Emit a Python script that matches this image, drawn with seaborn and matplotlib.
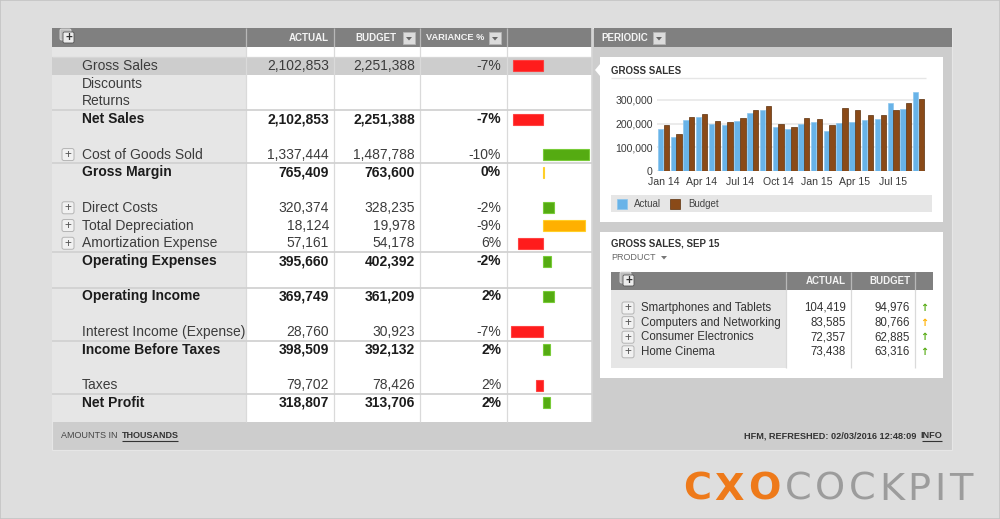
import numpy as np
import pandas as pd
import matplotlib
matplotlib.use("Agg")
import matplotlib.pyplot as plt
import seaborn as sns
from matplotlib.patches import Rectangle, FancyBboxPatch, Polygon
from matplotlib.ticker import FuncFormatter

# ------------------------------------------------------------------ data
row_labels = ["Gross Sales", "Discounts", "Returns", "Net Sales", "",
              "Cost of Goods Sold", "Gross Margin", "",
              "Direct Costs", "Total Depreciation", "Amortization Expense",
              "Operating Expenses", "", "Operating Income", "",
              "Interest Income (Expense)", "Income Before Taxes", "",
              "Taxes", "Net Profit"]
row_bold = [False, False, False, True, False, False, True, False, False, False,
            False, True, False, True, False, False, True, False, False, True]
row_expand = [False, False, False, False, False, True, False, False, True, True,
              True, False, False, False, False, False, False, False, False, False]
actual_vals = [2102853, None, None, 2102853, None, 1337444, 765409, None,
               320374, 18124, 57161, 395660, None, 369749, None,
               28760, 398509, None, 79702, 318807]
budget_vals = [2251388, None, None, 2251388, None, 1487788, 763600, None,
               328235, 19978, 54178, 402392, None, 361209, None,
               30923, 392132, None, 78426, 313706]
variance_txt = ["-7%", "", "", "-7%", "", "-10%", "0%", "", "-2%", "-9%", "6%",
                "-2%", "", "2%", "", "-7%", "2%", "", "2%", "2%"]
# favourability-signed variance bar (percent)
variance_bar = [-6.6, None, None, -6.6, None, 10.1, 0.25, None, 2.4, 9.3, -5.5,
                1.7, None, 2.4, None, -7.0, 1.6, None, -1.6, 1.6]
variance_status = ["bad", None, None, "bad", None, "good", "warn", None, "good",
                   "warn", "bad", "good", None, "good", None, "bad", "good",
                   None, "bad", "good"]

months = ["Jan 14", "Feb 14", "Mar 14", "Apr 14", "May 14", "Jun 14", "Jul 14",
          "Aug 14", "Sep 14", "Oct 14", "Nov 14", "Dec 14", "Jan 15", "Feb 15",
          "Mar 15", "Apr 15", "May 15", "Jun 15", "Jul 15", "Aug 15", "Sep 15"]
sales_actual = [176000, 142000, 215000, 227000, 199000, 192000, 211000, 246000,
                259000, 187000, 176000, 199000, 207000, 169000, 203000, 207000,
                214000, 220000, 286000, 261000, 333799]
sales_budget = [193000, 155000, 227000, 239000, 211000, 208000, 223000, 256000,
                273000, 200000, 187000, 223000, 220000, 196000, 265000, 259000,
                235000, 235000, 259000, 285000, 301943]
yticks = [0, 100000, 200000, 300000]

product_names = ["Smartphones and Tablets", "Computers and Networking",
                 "Consumer Electronics", "Home Cinema"]
product_actual = [104419, 83585, 72357, 73438]
product_budget = [94976, 80766, 62885, 63316]
product_trend = ["good", "warn", "good", "good"]

status_colors = {"bad": "#ff1c1c", "good": "#55ab12", "warn": "#ffb000"}

# ------------------------------------------------------------------ setup
plt.rcParams["font.family"] = ["Liberation Sans", "DejaVu Sans"]
W, H = 1000, 519
fig = plt.figure(figsize=(W / 100, H / 100), dpi=100)
bg = fig.add_axes([0, 0, 1, 1])
bg.set_xlim(0, W)
bg.set_ylim(H, 0)
bg.axis("off")


def px_axes(x0, y0, x1, y1):
    return fig.add_axes([x0 / W, 1 - y1 / H, (x1 - x0) / W, (y1 - y0) / H])


def rect(x0, y0, x1, y1, fc, ec="none", lw=0, z=1):
    bg.add_patch(Rectangle((x0, y0), x1 - x0, y1 - y0, facecolor=fc,
                           edgecolor=ec, linewidth=lw, zorder=z))


def hline(x0, x1, y, color, lw=1, z=2):
    bg.plot([x0, x1], [y, y], color=color, lw=lw, zorder=z, solid_capstyle="butt")


def vline(x, y0, y1, color, lw=1, z=2):
    bg.plot([x, x], [y0, y1], color=color, lw=lw, zorder=z, solid_capstyle="butt")


def txt(x, y, s, size, color="#333333", ha="left", weight="normal", va="center", z=5, **kw):
    return bg.text(x, y, s, fontsize=size, color=color, ha=ha, va=va,
                   fontweight=weight, zorder=z, **kw)


def tracked(x0, x1, y, s, size, color, weight):
    """Lay out the letters of s individually so they span x0..x1."""
    r = fig.canvas.get_renderer()
    items = []
    for ch in s:
        t = txt(0, y, ch, size, color, weight=weight, va="baseline",
                family=["DejaVu Sans"])
        items.append((t, t.get_window_extent(renderer=r).width))
    total = sum(w for _, w in items)
    track = (x1 - x0 - total) / max(1, len(s) - 1)
    x = x0
    for t, w in items:
        t.set_x(x)
        x += w + track


def dropdown(x, y, s=12):
    rect(x, y, x + s, y + s, "#dcdcdc", ec="#b5b5b5", lw=0.6, z=4)
    cx, cy = x + s / 2, y + s / 2 + 0.5
    bg.add_patch(Polygon([[cx - 3, cy - 1.5], [cx + 3, cy - 1.5], [cx, cy + 2]],
                         closed=True, facecolor="#666666", edgecolor="none", zorder=5))


def plusbtn(x, y, s=12):
    bg.add_patch(FancyBboxPatch((x, y), s, s, boxstyle="round,pad=0,rounding_size=2",
                                facecolor="#f1f1f1", edgecolor="#b4b4b4", lw=0.7, zorder=4))
    txt(x + s / 2, y + s / 2 + 0.3, "+", 8.5, "#555555", ha="center", z=6)


def header_plus(x, y):
    bg.add_patch(FancyBboxPatch((x - 2, y - 2), 11, 11, boxstyle="round,pad=0,rounding_size=1.5",
                                facecolor="#bdbdbd", edgecolor="#e0e0e0", lw=0.6, zorder=4))
    bg.add_patch(FancyBboxPatch((x + 1, y + 1), 11, 11, boxstyle="round,pad=0,rounding_size=1.5",
                                facecolor="#ececec", edgecolor="#555555", lw=0.6, zorder=5))
    txt(x + 6.5, y + 6.8, "+", 8.5, "#333333", ha="center", weight="bold", z=6)


# ------------------------------------------------------------------ backgrounds
rect(0, 0, W, H, "#dedede", ec="#c4c4c4", lw=1.2, z=0)
rect(52, 28, 952, 450, "#cdcdcd", ec="#e6e6e6", lw=0.8, z=0.5)

# ------------------------------------------------------------------ P&L table
TX0, TX1 = 52, 592
col_sep = [246, 334, 420, 507]
row_h = 17.74
row0 = 57.0
rect(TX0, 28, TX1, 47, "#808080", z=1)
rect(TX0, 47, 246, 422, "#e6e6e6", z=1)
rect(246, 47, TX1, 422, "#ffffff", z=1)
for x in col_sep:
    vline(x, 28, 47, "#b8b8b8", lw=0.9)
    vline(x, 47, 422, "#dadada", lw=0.9)
vline(TX1, 28, 422, "#d6d6d6", lw=1.2)
hline(TX0, TX1, 56.5, "#d6d6d6", lw=0.9)

header_plus(62, 31)
txt(329, 38, "ACTUAL", 7, "#f4f4f4", ha="right", weight="bold")
txt(397, 38, "BUDGET", 7, "#f4f4f4", ha="right", weight="bold")
dropdown(403, 32)
txt(426, 38, "VARIANCE %", 6.7, "#f4f4f4", ha="left", weight="bold")
dropdown(489, 32)

# highlight for first row
rect(TX0, row0, TX1, row0 + row_h, "#cdcdcd", z=1.5)

for i, lab in enumerate(row_labels):
    yc = row0 + row_h * (i + 0.5)
    if row_bold[i]:
        hline(TX0, TX1, row0 + row_h * i, "#d2d2d2", lw=1.3)
    if not lab:
        continue
    w = "bold" if row_bold[i] else "normal"
    c = "#1c1c1c" if row_bold[i] else "#3c3c3c"
    txt(82, yc, lab, 10, c, weight=w)
    if row_expand[i]:
        plusbtn(62, yc - 6)
    if actual_vals[i] is not None:
        txt(329, yc, f"{actual_vals[i]:,}", 10, c, ha="right", weight=w)
        txt(415, yc, f"{budget_vals[i]:,}", 10, c, ha="right", weight=w)
        txt(501, yc, variance_txt[i], 10, c, ha="right", weight=w)

# variance bars (seaborn)
var_df = pd.DataFrame({"row": list(range(len(row_labels))),
                       "value": variance_bar, "status": variance_status}).dropna()
var_df["row"] = var_df["row"].astype(float)
n_rows = len(row_labels)
vax = px_axes(507, row0, 592, row0 + row_h * n_rows)
sns.barplot(data=var_df, x="value", y="row", hue="status", palette=status_colors,
            orient="h", native_scale=True, dodge=False, legend=False, saturation=1,
            width=0.62, errorbar=None, ax=vax, linewidth=0.8)
for p in vax.patches:
    fc = p.get_facecolor()
    p.set_edgecolor((min(1, fc[0] + 0.12), min(1, fc[1] + 0.12), min(1, fc[2] + 0.12), 0.9))
vax.set_xlim(-(543 - 507) / 4.55, (592 - 543) / 4.55)
vax.set_ylim(n_rows - 0.5, -0.5)
vax.set_facecolor("none")
vax.axis("off")

# footer
txt(61, 436, "AMOUNTS IN", 6.5, "#444444")
txt(122, 436, "THOUSANDS", 6.5, "#333333", weight="bold")
hline(122, 178, 441, "#333333", lw=0.8, z=6)
txt(916, 436, "HFM, REFRESHED: 02/03/2016 12:48:09", 6.6, "#333333", ha="right", weight="bold")
txt(942, 436, "INFO", 6.6, "#333333", ha="right", weight="bold")
hline(922, 942, 441, "#333333", lw=0.8, z=6)

# ------------------------------------------------------------------ right panel
rect(594, 28, 952, 47, "#808080", z=1)
txt(601, 38, "PERIODIC", 7, "#f4f4f4", weight="bold")
dropdown(653, 32)

# card 1
rect(600, 57, 943, 222, "#ffffff", z=1)
bg.add_patch(Polygon([[600, 64], [595, 70], [600, 76]], closed=True,
                     facecolor="#ffffff", edgecolor="none", zorder=1))
txt(611, 71, "GROSS SALES", 7, "#333333", weight="bold")
hline(611, 926, 77.5, "#e6e6e6", lw=1)

sales_df = pd.DataFrame({
    "month": months * 2,
    "value": sales_actual + sales_budget,
    "series": ["Actual"] * len(months) + ["Budget"] * len(months),
})
cax = px_axes(657, 88, 925, 171)
sns.barplot(data=sales_df, x="month", y="value", hue="series",
            palette={"Actual": "#68b3e8", "Budget": "#8a4a18"}, saturation=1,
            width=0.9, gap=0.06, errorbar=None, legend=False, ax=cax, zorder=3)
for p in cax.patches:
    fc = p.get_facecolor()
    if fc[2] > 0.5:
        p.set_edgecolor("#8cc6ee")
    else:
        p.set_edgecolor("#5c300c")
    p.set_linewidth(0.5)
cax.set_xlim(-0.5, len(months) - 0.5)
cax.set_ylim(0, 350000)
cax.set_facecolor("none")
for s in cax.spines.values():
    s.set_visible(False)
cax.set_yticks(yticks)
cax.yaxis.set_major_formatter(FuncFormatter(lambda v, _: f"{int(v):,}"))
cax.set_xticks(range(0, len(months), 3))
cax.set_xticklabels(months[::3])
cax.tick_params(axis="both", length=0, labelsize=7.6, colors="#3a3a3a", pad=3)
cax.tick_params(axis="x", pad=4)
cax.grid(axis="y", color="#e8e8e8", lw=1.2, zorder=0)
cax.set_axisbelow(True)
cax.set_xlabel("")
cax.set_ylabel("")

# legend strip
rect(611, 195, 932, 212, "#e6e6e6", z=2)
rect(617, 199, 627, 209, "#68b3e8", ec="#8cc6ee", lw=0.5, z=3)
txt(634, 204, "Actual", 7, "#444444", z=4)
rect(670, 199, 680, 209, "#8a4a18", ec="#5c300c", lw=0.5, z=3)
txt(688, 204, "Budget", 7, "#444444", z=4)

# card 2
rect(600, 232, 943, 378, "#ffffff", z=1)
txt(611, 244, "GROSS SALES, SEP 15", 7, "#333333", weight="bold")
txt(611, 258, "PRODUCT", 6.5, "#666666")
bg.add_patch(Polygon([[661, 256], [667, 256], [664, 259.5]], closed=True,
                     facecolor="#777777", edgecolor="none", zorder=5))
rect(611, 272, 933, 290, "#808080", z=2)
rect(611, 290, 786, 368, "#e6e6e6", z=2)
rect(786, 290, 933, 368, "#ffffff", z=2)
for x in [786, 851, 915]:
    vline(x, 272, 290, "#b8b8b8", lw=0.9, z=3)
    vline(x, 290, 368, "#dadada", lw=0.9, z=3)
header_plus(622, 274)
txt(846, 281, "ACTUAL", 7, "#f4f4f4", ha="right", weight="bold")
txt(910, 281, "BUDGET", 7, "#f4f4f4", ha="right", weight="bold")
for i, name in enumerate(product_names):
    yc = 308 + 14.6 * i
    plusbtn(622, yc - 6)
    txt(641, yc, name, 8.3, "#333333")
    txt(846, yc, f"{product_actual[i]:,}", 8.3, "#333333", ha="right")
    txt(910, yc, f"{product_budget[i]:,}", 8.3, "#333333", ha="right")
    txt(924, yc, "\u2191", 7, status_colors[product_trend[i]], ha="center",
        weight="bold", family=["DejaVu Sans"])

# ------------------------------------------------------------------ logo
tracked(683, 780, 500, "CXO", 27.5, "#ee7a1a", "bold")
tracked(785, 972, 500, "COCKPIT", 27.5, "#9c9c9c", "normal")

fig.savefig("out.png", dpi=100)
